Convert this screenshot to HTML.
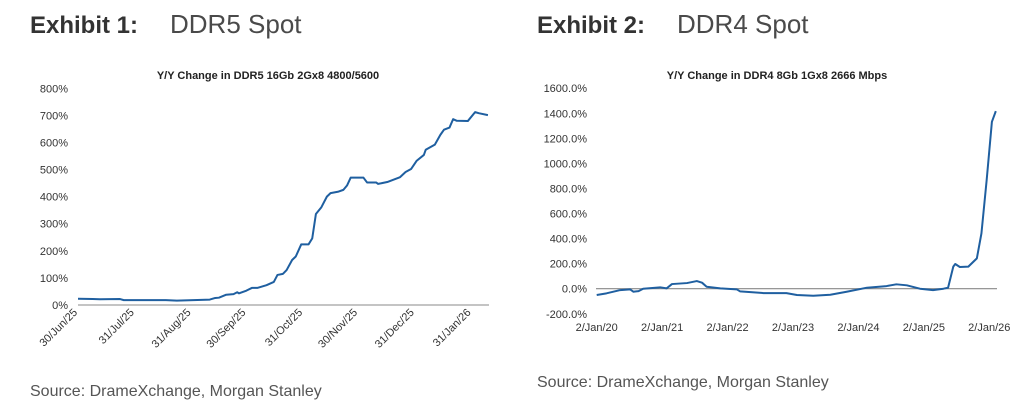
<!DOCTYPE html>
<html><head><meta charset="utf-8"><style>
body{margin:0;width:1024px;height:413px;background:#fff;font-family:"Liberation Sans",sans-serif;position:relative;overflow:hidden}
.h{position:absolute;top:9px;font-size:26px;color:#3a3a3a;white-space:nowrap}
.h b{font-weight:bold;color:#333;font-size:24px;display:inline-block;width:140px}
.h span{font-weight:normal;color:#4a4a4a}
.src{position:absolute;font-size:16px;color:#555}
svg{position:absolute;left:0;top:0}
</style></head><body>
<div class="h" style="left:30px"><b>Exhibit 1:</b><span>DDR5 Spot</span></div>
<div class="h" style="left:537px"><b>Exhibit 2:</b><span>DDR4 Spot</span></div>
<div class="src" style="left:30px;top:383px">Source: DrameXchange, Morgan Stanley</div>
<div class="src" style="left:537px;top:374px">Source: DrameXchange, Morgan Stanley</div>
<svg id="s" width="1024" height="413"></svg>
<script>
// Chart 1 data (days since 30/Jun/25, Y/Y %)
const c1Days=[0,8,12,23,25,48,54,72,75,77,81,85,87,88,92,95,98,103,107,109,112,114,117,119,122,126,128,130,133,136,138,142,145,147,149,156,158,163,164,169,176,179,182,185,189,190,195,198,200,203,205,207,213,217,219,224];
const c1Vals=[23,22,21,22,18,18,16,20,26,27,38,40,47,43,53,63,63,73,85,111,115,129,166,179,224,224,246,336,361,400,413,418,425,441,470,470,452,452,447,454,472,491,502,532,554,573,592,628,647,655,686,680,679,712,708,701];
const c1TickLabels=["30/Jun/25","31/Jul/25","31/Aug/25","30/Sep/25","31/Oct/25","30/Nov/25","31/Dec/25","31/Jan/26"];
const c1TickDays=[0,31,62,92,123,153,184,215];
const c1YTicks=[0,100,200,300,400,500,600,700,800];
// Chart 2 data (years since 2/Jan/20, Y/Y %)
const c2Years=[0,.15,.36,.51,.56,.64,.71,.97,1.07,1.15,1.38,1.53,1.61,1.68,1.89,2.14,2.19,2.55,2.9,3.06,3.31,3.57,3.82,4.13,4.43,4.58,4.74,4.94,5.14,5.3,5.37,5.45,5.48,5.55,5.68,5.81,5.88,5.96,6.04,6.1];
const c2Vals=[-50,-37,-11,-5,-24,-19,0,11,3,37,45,61,48,16,3,-5,-21,-35,-35,-50,-56,-48,-24,8,21,35,27,0,-11,0,8,176,197,173,176,242,441,867,1332,1417];
const c2TickLabels=["2/Jan/20","2/Jan/21","2/Jan/22","2/Jan/23","2/Jan/24","2/Jan/25","2/Jan/26"];
const c2TickYears=[0,1,2,3,4,5,6];
const c2YTicks=[-200,0,200,400,600,800,1000,1200,1400,1600];

const S=document.getElementById('s');const NS='http://www.w3.org/2000/svg';
function el(t,a,txt){const e=document.createElementNS(NS,t);for(const k in a)e.setAttribute(k,a[k]);if(txt!==undefined)e.textContent=txt;S.appendChild(e);return e;}
const lab={fill:'#333','font-size':'11px','font-family':'"Liberation Sans",sans-serif'};

// Chart 1
const x1=d=>78+d*1.83, y1=v=>305-v*0.2709;
let e=el('text',{x:268,y:79,'text-anchor':'middle','font-size':'11px','font-weight':'bold',fill:'#222','font-family':'"Liberation Sans",sans-serif'},'Y/Y Change in DDR5 16Gb 2Gx8 4800/5600');


c1YTicks.forEach(v=>{const t=el('text',Object.assign({x:68,y:y1(v)+4,'text-anchor':'end'},lab),v+'%');

});
e=el('line',{x1:78,x2:489,y1:y1(0),y2:y1(0),stroke:'#888','stroke-width':1});


c1TickLabels.forEach((l,i)=>{const x=x1(c1TickDays[i]),y=y1(0)+8;const t=el('text',Object.assign({x:x,y:y,'text-anchor':'end',transform:`rotate(-45 ${x} ${y})`},lab),l);

});
e=el('polyline',{points:c1Days.map((d,i)=>x1(d)+','+y1(c1Vals[i])).join(' '),fill:'none',stroke:'#1f5fa0','stroke-width':2,'stroke-linejoin':'round'});



// Chart 2
const x2=yr=>596.7+yr*65.43, y2=v=>288.7-v*0.1253;
e=el('text',{x:777,y:79,'text-anchor':'middle','font-size':'11px','font-weight':'bold',fill:'#222','font-family':'"Liberation Sans",sans-serif'},'Y/Y Change in DDR4 8Gb 1Gx8 2666 Mbps');


c2YTicks.forEach(v=>{const t=el('text',Object.assign({x:587,y:y2(v)+4,'text-anchor':'end'},lab),v.toFixed(1)+'%');

});
e=el('line',{x1:596,x2:997,y1:y2(0),y2:y2(0),stroke:'#888','stroke-width':1.2});


c2TickLabels.forEach((l,i)=>{const t=el('text',Object.assign({x:x2(c2TickYears[i]),y:331,'text-anchor':'middle'},lab),l);

});
e=el('polyline',{points:c2Years.map((d,i)=>x2(d)+','+y2(c2Vals[i])).join(' '),fill:'none',stroke:'#1f5fa0','stroke-width':2,'stroke-linejoin':'round'});


</script>
</body></html>
